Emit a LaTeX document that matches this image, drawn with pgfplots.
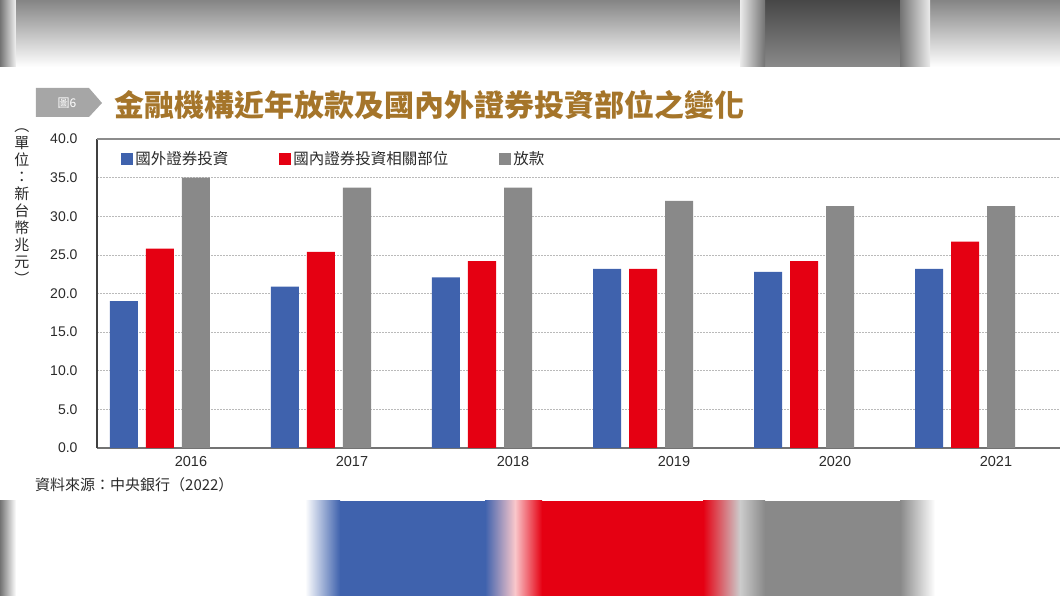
\documentclass[border=0pt]{standalone}
\usepackage{fontspec}
\usepackage{pgfplots}
\pgfplotsset{compat=1.18}
\setmainfont{Liberation Sans}
\newfontfamily\cjk{Noto Sans CJK TC}

\definecolor{cblue}{HTML}{3F62AD}
\definecolor{cred}{HTML}{E50012}
\definecolor{cgray}{HTML}{898989}
\definecolor{ctitle}{HTML}{A5752A}
\definecolor{ctag}{HTML}{A6A6A6}
\definecolor{ctext}{HTML}{2A2A2A}

\pgfplotsset{sqlegend/.style={legend image code/.code={\fill[##1] (0pt,-6pt) rectangle (12pt,6pt);}}}

\begin{document}
\begin{tikzpicture}[x=1pt,y=1pt]
\begin{axis}[
  name=ax,
  scale only axis, width=963pt, height=309pt,
  ybar=8pt, bar width=28pt,
  xmin=-0.3913, xmax=5.5901,
  ymin=0, ymax=40,
  axis x line*=bottom, axis y line*=left,
  x axis line style={-, black!55, line width=1.2pt},
  y axis line style={-, black!75, line width=1.2pt},
  xtick={0,1,2,3,4,5},
  xticklabels={2016,2017,2018,2019,2020,2021},
  ytick={0,5,10,15,20,25,30,35,40},
  major tick length=0pt,
  yticklabel style={/pgf/number format/fixed, /pgf/number format/fixed zerofill,
    /pgf/number format/precision=1, /pgf/number format/assume math mode=true},
  y tick label style={font=\fontsize{14}{14}\selectfont, text=ctext, xshift=-16pt},
  x tick label style={font=\fontsize{14.5}{14.5}\selectfont, text=ctext, xshift=31pt, yshift=-5pt},
  ymajorgrids=true,
  grid style={black!27, dash pattern=on 2pt off 1pt, line width=0.6pt},
  legend columns=3,
  legend style={at={(0.022,0.972)}, anchor=north west, draw=none, fill=none,
    font=\cjk\fontsize{15.5}{15.5}\selectfont, text=ctext,
    /tikz/every even column/.append style={column sep=49pt}},
  legend cell align=left,
]
\addplot[fill=cblue, draw=none, sqlegend] coordinates {(0,19.0) (1,20.9) (2,22.1) (3,23.2) (4,22.8) (5,23.2)};
\addlegendentry{國外證券投資}
\addplot[fill=cred, draw=none, sqlegend] coordinates {(0,25.8) (1,25.4) (2,24.2) (3,23.2) (4,24.2) (5,26.7)};
\addlegendentry{國內證券投資相關部位}
\addplot[fill=cgray, draw=none, sqlegend] coordinates {(0,35.0) (1,33.7) (2,33.7) (3,32.0) (4,31.3) (5,31.3)};
\addlegendentry{放款}
\draw[black!45, line width=1.5pt] (rel axis cs:0,1) -- (rel axis cs:1,1);
\end{axis}

% everything else is placed from the corner of the axis box
\begin{scope}[shift={(ax.south west)}, shift={(-97,-148)}]
% blurred strip on top
\shade[top color=black!48, bottom color=white] (0,529) rectangle (1060,596);
\shade[top color=black!72, bottom color=black!46] (765,529) rectangle (900,596);
\shade[left color=black!8, right color=black!55] (740,529) rectangle (765,596);
\shade[left color=black!55, right color=black!8] (900,529) rectangle (930,596);
\shade[left color=black!55, right color=black!5] (0,529) rectangle (16,596);

% blurred strip at the bottom
\shade[left color=black!55, right color=white] (0,0) rectangle (16,95);
\shade[left color=white, right color=cblue] (305,0) rectangle (340,95);
\fill[cblue] (340,0) rectangle (485,95);
\shade[left color=cblue, right color=white!78!cred] (485,0) rectangle (515,95);
\shade[left color=white!78!cred, right color=cred] (515,0) rectangle (542,95);
\fill[cred] (542,0) rectangle (703,95);
\shade[left color=cred, right color=black!20] (703,0) rectangle (740,95);
\shade[left color=black!20, right color=cgray] (740,0) rectangle (765,95);
\fill[cgray] (765,0) rectangle (900,95);
\shade[left color=cgray, right color=white] (900,0) rectangle (935,95);

% tag and title
\fill[ctag] (36,479) -- (89,479) -- (102,493) -- (89,508) -- (36,508) -- cycle;
\node[text=white, font=\cjk\fontsize{12}{12}\selectfont] at (67,493) {圖6};
\node[anchor=west, inner sep=0pt, text=ctitle, font=\cjk\bfseries\fontsize{30}{30}\selectfont] at (114,491) {金融機構近年放款及國內外證券投資部位之變化};

% unit, written top to bottom
\node[align=center, text=ctext, font=\cjk\fontsize{15}{17}\selectfont] at (22,389) {︵\\單\\位\\：\\新\\台\\幣\\兆\\元\\︶};

% source
\node[anchor=west, inner sep=0pt, text=ctext, font=\cjk\fontsize{15}{15}\selectfont] at (35,111) {資料來源：中央銀行（2022）};

\pgfresetboundingbox
\path[use as bounding box] (0,0) rectangle (1060,596);
\end{scope}
\end{tikzpicture}
\end{document}
